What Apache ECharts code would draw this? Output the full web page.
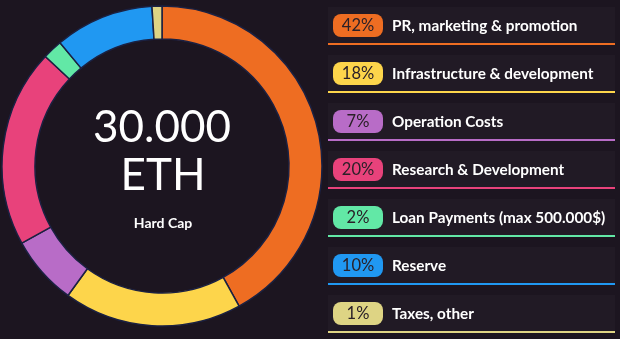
<!DOCTYPE html>
<html>
<head>
<meta charset="utf-8">
<script src="https://cdn.jsdelivr.net/npm/echarts@6/dist/echarts.min.js"></script>
<style>
html,body{margin:0;padding:0;background:#1c1520;}
#chart{width:620px;height:339px;}
</style>
</head>
<body>
<div id="chart"></div>
<script>
const categories = ["PR, marketing & promotion","Infrastructure & development","Operation Costs","Research & Development","Loan Payments (max 500.000$)","Reserve","Taxes, other"];
const percents = [42, 18, 7, 20, 2, 10, 1];
const colors = ["#ee6d22","#fdd54b","#b86cc7","#e8427b","#62e8a6","#2098f2","#ded484"];
const centerTitle = ["30.000","ETH"];
const centerSubtitle = "Hard Cap";

const chart = echarts.init(document.getElementById('chart'), null, {renderer:'canvas'});
const FONT = 'Lato, "Noto Sans", sans-serif';

const graphics = [];
// center text
graphics.push({type:'text', style:{text:centerTitle[0], x:162, y:128, fill:'#ffffff', font:'44px ' + FONT, align:'center', verticalAlign:'middle'}, z:10});
graphics.push({type:'text', style:{text:centerTitle[1], x:163, y:176, fill:'#ffffff', font:'44px ' + FONT, align:'center', verticalAlign:'middle'}, z:10});
graphics.push({type:'text', style:{text:centerSubtitle, x:163, y:223, fill:'#ffffff', font:'bold 14px ' + FONT, align:'center', verticalAlign:'middle'}, z:10});
// legend rows
categories.forEach((name, i) => {
  const base = 43 + 48 * i;
  graphics.push({type:'rect', shape:{x:328, y:base-36, width:287, height:36}, style:{fill:'#211a25'}, z:1});
  graphics.push({type:'rect', shape:{x:328, y:base, width:287, height:2}, style:{fill:colors[i]}, z:2});
  graphics.push({type:'rect', shape:{x:333, y:base-29, width:50, height:23, r:8}, style:{fill:colors[i]}, z:3});
  graphics.push({type:'text', style:{text:percents[i] + '%', x:358, y:base-17, fill:'#2a2028', font:'16.5px ' + FONT, align:'center', verticalAlign:'middle'}, z:4});
  graphics.push({type:'text', style:{text:name, x:392, y:base-17, fill:'#ffffff', font:'bold 15.3px ' + FONT, align:'left', verticalAlign:'middle'}, z:4});
});

chart.setOption({
  backgroundColor:'#1c1520',
  animation:false,
  series:[{
    type:'pie',
    center:[162,166],
    radius:[127,160],
    startAngle:90,
    clockwise:true,
    label:{show:false},
    labelLine:{show:false},
    emphasis:{disabled:true},
    itemStyle:{borderColor:'#1b2142', borderWidth:1.5},
    data: categories.map((n,i)=>({name:n, value:percents[i], itemStyle:{color:colors[i]}}))
  }],
  graphic: graphics
});
</script>
</body>
</html>
